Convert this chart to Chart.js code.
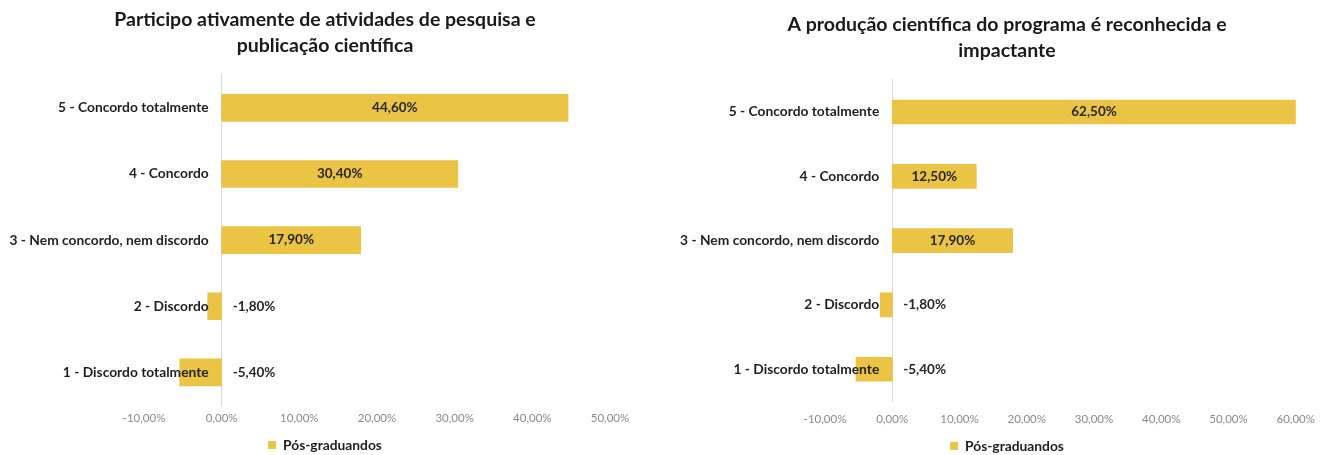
<!DOCTYPE html>
<html lang="pt-BR">
<head>
<meta charset="utf-8">
<title>Pós-graduandos</title>
<script src="https://cdn.jsdelivr.net/npm/chart.js@4"></script>
<style>
  html, body { margin: 0; padding: 0; background: #fff; }
  #wrap { position: relative; width: 1326px; height: 455px; overflow: hidden; }
  .painel { position: absolute; top: 0; }
</style>
</head>
<body>
<div id="wrap">
  <div class="painel" style="left:0"><canvas id="graficoPesquisa" width="650" height="455"></canvas></div>
  <div class="painel" style="left:668px"><canvas id="graficoImpacto" width="658" height="455"></canvas></div>
</div>
<script>
const categorias = [
  '5 - Concordo totalmente',
  '4 - Concordo',
  '3 - Nem concordo, nem discordo',
  '2 - Discordo',
  '1 - Discordo totalmente'
];
const valoresPesquisa = [44.6, 30.4, 17.9, -1.8, -5.4];
const valoresImpacto = [62.5, 12.5, 17.9, -1.8, -5.4];
const ticksPesquisa = [-10, 0, 10, 20, 30, 40, 50];
const ticksImpacto = [-10, 0, 10, 20, 30, 40, 50, 60];
const legenda = 'Pós-graduandos';

const AMARELO = '#ECC445';
const FONTE = 'Lato, "Open Sans", sans-serif';

const pct = v => v.toFixed(2).replace('.', ',') + '%';

// rótulos de valor: dentro da barra quando positivo, à direita do eixo quando negativo
const rotulos = {
  id: 'rotulos',
  afterDatasetsDraw(chart) {
    const { ctx, chartArea } = chart;
    const meta = chart.getDatasetMeta(0);
    const dados = chart.data.datasets[0].data;
    ctx.save();
    ctx.font = 'bold 13.5px ' + FONTE;
    ctx.fillStyle = '#262626';
    ctx.textBaseline = 'middle';
    meta.data.forEach((barra, i) => {
      const v = dados[i];
      if (v >= 0) {
        const fim = Math.min(barra.x, chartArea.right);
        ctx.textAlign = 'center';
        ctx.fillText(pct(v), (barra.base + fim) / 2, barra.y);
      } else {
        ctx.textAlign = 'left';
        ctx.fillText(pct(v), barra.base + 11, barra.y);
      }
    });
    ctx.restore();
  }
};

// o eixo de categorias fica no zero e ignora ticks.padding; afasta os textos da linha
const afastarCategorias = {
  id: 'afastarCategorias',
  beforeDraw(chart) {
    const itens = chart.scales.y.getLabelItems(chart.chartArea);
    if (itens._afastado) return;
    itens.forEach(it => { it.options.translation[0] -= 13; });
    itens._afastado = true;
  }
};

// eixos vazios que reservam as margens sem descentralizar título e legenda
const margem = largura => ({
  type: 'linear',
  display: true,
  grid: { display: false },
  border: { display: false },
  ticks: { display: false },
  afterFit: s => { s.width = largura; }
});

function criarGrafico(id, titulo, valores, ticks, espessura, pad) {
  return new Chart(document.getElementById(id), {
    type: 'bar',
    data: {
      labels: categorias,
      datasets: [{
        label: legenda,
        data: valores,
        backgroundColor: AMARELO,
        borderWidth: 0,
        barThickness: espessura,
        yAxisID: 'y'
      }]
    },
    options: {
      indexAxis: 'y',
      responsive: false,
      animation: false,
      layout: { padding: { left: pad.left, bottom: pad.bottom } },
      scales: {
        x: {
          min: ticks[0],
          max: ticks[ticks.length - 1],
          afterBuildTicks: s => { s.ticks = ticks.map(v => ({ value: v })); },
          grid: { display: false, drawTicks: false },
          border: { display: false },
          ticks: {
            padding: pad.ticks,
            color: '#8a8a8a',
            font: { family: FONTE, size: 11.5 },
            callback: v => pct(v)
          }
        },
        y: {
          position: { x: 0 },
          grid: { display: false, drawTicks: false },
          border: { display: true, color: '#d9d9d9', width: 1 },
          ticks: {
            z: 1,
            color: '#1f1f1f',
            font: { family: FONTE, size: 13.8, weight: 'bold' }
          }
        },
        margemEsq: Object.assign(margem(pad.esq), { axis: 'y', position: 'left' }),
        margemDir: Object.assign(margem(pad.dir), { axis: 'y', position: 'right' })
      },
      plugins: {
        title: {
          display: true,
          text: titulo,
          color: '#1a1a1a',
          font: { family: FONTE, size: 19.5, weight: 'bold', lineHeight: 1.33 },
          padding: pad.title
        },
        legend: {
          position: 'bottom',
          labels: {
            boxWidth: 8,
            boxHeight: 8,
            padding: pad.legenda,
            color: '#1f1f1f',
            font: { family: FONTE, size: 13.8, weight: 'bold' }
          }
        },
        tooltip: { enabled: false }
      }
    },
    plugins: [rotulos, afastarCategorias]
  });
}

criarGrafico('graficoPesquisa',
  ['Participo ativamente de atividades de pesquisa e', 'publicação científica'],
  valoresPesquisa, ticksPesquisa, 27,
  { left: 0, esq: 144, dir: 40, bottom: -7, ticks: 6, legenda: 7, title: { top: 7, bottom: 16 } });

criarGrafico('graficoImpacto',
  ['A produção científica do programa é reconhecida e', 'impactante'],
  valoresImpacto, ticksImpacto, 24,
  { left: 20, esq: 137, dir: 27, bottom: -8, ticks: 11, legenda: 2, title: { top: 12, bottom: 16 } });
</script>
</body>
</html>
